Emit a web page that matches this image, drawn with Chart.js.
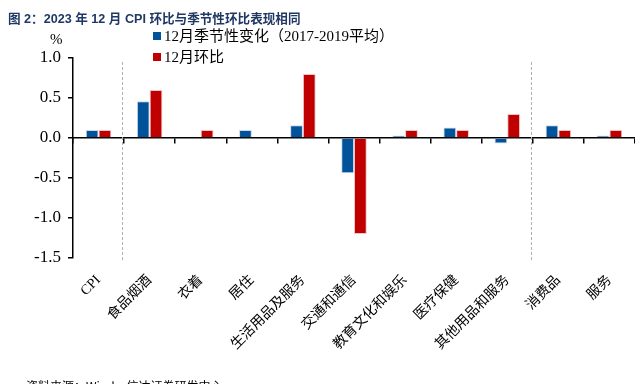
<!DOCTYPE html>
<html>
<head>
<meta charset="utf-8">
<script src="https://cdn.jsdelivr.net/npm/chart.js@4.4.1/dist/chart.umd.min.js"></script>
<style>
  html, body { margin: 0; padding: 0; background: #fff; }
  #wrap { position: relative; width: 635px; height: 384px; overflow: hidden; }
  canvas { position: absolute; left: 0; top: 0; }
  .title { position: absolute; left: 8px; top: 8px; font: bold 12.6px "Liberation Sans", "Noto Sans CJK SC", sans-serif; color: #1F3864; white-space: nowrap; }
  .unit { position: absolute; left: 50px; top: 31px; font: 15px "Liberation Serif", "Noto Sans CJK SC", serif; color: #000; }
  .legend { position: absolute; left: 153px; top: 26px; font: 15px "Liberation Serif", "Noto Sans CJK SC", serif; color: #000; line-height: 21px; }
  .legend div { white-space: nowrap; }
  .legend span.sw { display: inline-block; width: 8px; height: 8px; margin-right: 3px; vertical-align: 1px; }
  .footer { position: absolute; left: 26px; top: 377px; font: 12px "Noto Sans CJK SC", sans-serif; color: #000; white-space: nowrap; }
</style>
</head>
<body>
<div id="wrap">
  <canvas id="c" width="635" height="384"></canvas>
  <div class="title">图 2：2023 年 12 月 CPI 环比与季节性环比表现相同</div>
  <div class="unit">%</div>
  <div class="legend" id="legend"></div>
  <div class="footer">资料来源：Wind，信达证券研发中心</div>
</div>
<script>
const categories = ['CPI', '食品烟酒', '衣着', '居住', '生活用品及服务', '交通和通信', '教育文化和娱乐', '医疗保健', '其他用品和服务', '消费品', '服务'];
const seasonalLabel = '12月季节性变化（2017-2019平均）';
const momLabel = '12月环比';
const seasonalValues = [0.10, 0.46, 0.00, 0.10, 0.16, -0.44, 0.03, 0.13, -0.07, 0.16, 0.03];
const momValues = [0.10, 0.60, 0.10, 0.00, 0.80, -1.20, 0.10, 0.10, 0.30, 0.10, 0.10];
const yTicks = [1.0, 0.5, 0.0, -0.5, -1.0, -1.5];
const dividerAfter = [0, 8];

const BLUE = '#00539B';
const RED = '#C00000';

document.getElementById('legend').innerHTML =
  '<div><span class="sw" style="background:' + BLUE + '"></span>' + seasonalLabel + '</div>' +
  '<div><span class="sw" style="background:' + RED + '"></span>' + momLabel + '</div>';

const serif = '"Liberation Serif", "Noto Sans CJK SC", serif';

const dividerPlugin = {
  id: 'dividers',
  afterDatasetsDraw(chart) {
    const x = chart.scales.x;
    const area = chart.chartArea;
    const ctx = chart.ctx;
    ctx.save();
    ctx.strokeStyle = '#B0B0B0';
    ctx.lineWidth = 1;
    ctx.setLineDash([3, 2]);
    dividerAfter.forEach(i => {
      const px = Math.round((x.getPixelForValue(i) + x.getPixelForValue(i + 1)) / 2) - 1.5;
      ctx.beginPath();
      ctx.moveTo(px, area.top + 4);
      ctx.lineTo(px, area.bottom + 4);
      ctx.stroke();
    });
    ctx.restore();
  }
};

new Chart(document.getElementById('c'), {
  type: 'bar',
  data: {
    labels: categories,
    datasets: [
      { label: seasonalLabel, data: seasonalValues, backgroundColor: BLUE, borderColor: '#C9D9EA', borderWidth: 1, xAxisID: 'x', categoryPercentage: 0.5, barPercentage: 1.0 },
      { label: momLabel, data: momValues, backgroundColor: RED, borderColor: '#F2C4C4', borderWidth: 1, xAxisID: 'x', categoryPercentage: 0.5, barPercentage: 1.0 }
    ]
  },
  options: {
    responsive: false,
    animation: false,
    devicePixelRatio: 1,
    layout: { padding: { top: 58, left: 0, right: 0, bottom: 0 } },
    plugins: { legend: { display: false }, title: { display: false }, tooltip: { enabled: false } },
    scales: {
      y: {
        min: -1.5, max: 1.0,
        afterBuildTicks(scale) { scale.ticks = yTicks.map(v => ({ value: v })); },
        afterFit(scale) { scale.width = 73; },
        grid: { display: true, drawOnChartArea: false, drawTicks: true, tickLength: 5, color: '#000', lineWidth: 1.5 },
        border: { display: true, color: '#000', width: 1.5 },
        ticks: { color: '#000', font: { family: serif, size: 17 }, padding: 7, callback: v => Number(v).toFixed(1) }
      },
      x: {
        position: 'bottom',
        afterFit(scale) { scale.height = 126; },
        grid: { display: false },
        border: { display: false },
        ticks: { color: '#000', font: { family: serif, size: 14 }, minRotation: 45, maxRotation: 45, padding: 6, autoSkip: false }
      },
      x2: {
        type: 'category',
        labels: categories,
        position: { y: 0 },
        offset: true,
        grid: { display: true, offset: true, drawOnChartArea: false, drawTicks: true, tickLength: 5, color: '#000', lineWidth: 1.5 },
        border: { display: true, color: '#000', width: 1.5 },
        ticks: { display: false }
      }
    }
  },
  plugins: [dividerPlugin]
});
</script>
</body>
</html>
